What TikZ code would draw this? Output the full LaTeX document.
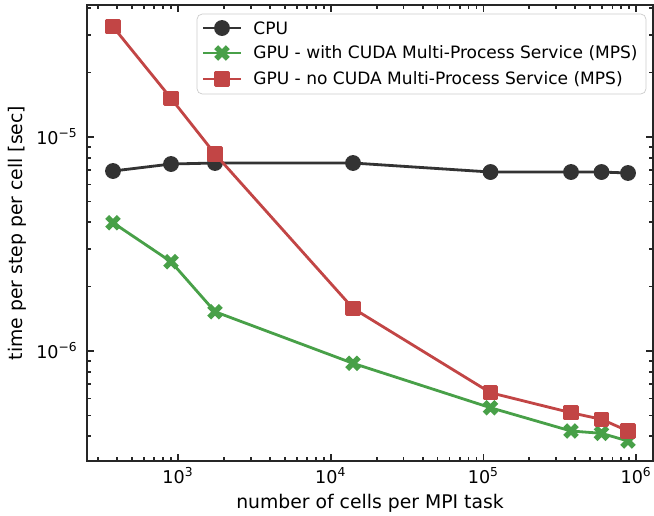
\documentclass[tikz,border=0pt]{standalone}
\usepackage{fontspec}
\setmainfont{DejaVu Sans}
\usetikzlibrary{plotmarks}
\definecolor{CpuGray}{HTML}{333333}
\definecolor{MpsGreen}{HTML}{48A048}
\definecolor{NoMpsRed}{HTML}{C24545}
\definecolor{LegendEdge}{HTML}{CCCCCC}

% filled X marker, as matplotlib draws it
\pgfdeclareplotmark{Xfilled}{%
  \pgfpathmoveto{\pgfqpoint{-1\pgfplotmarksize}{-2\pgfplotmarksize}}%
  \pgfpathlineto{\pgfqpoint{0pt}{-1\pgfplotmarksize}}%
  \pgfpathlineto{\pgfqpoint{1\pgfplotmarksize}{-2\pgfplotmarksize}}%
  \pgfpathlineto{\pgfqpoint{2\pgfplotmarksize}{-1\pgfplotmarksize}}%
  \pgfpathlineto{\pgfqpoint{1\pgfplotmarksize}{0pt}}%
  \pgfpathlineto{\pgfqpoint{2\pgfplotmarksize}{1\pgfplotmarksize}}%
  \pgfpathlineto{\pgfqpoint{1\pgfplotmarksize}{2\pgfplotmarksize}}%
  \pgfpathlineto{\pgfqpoint{0pt}{1\pgfplotmarksize}}%
  \pgfpathlineto{\pgfqpoint{-1\pgfplotmarksize}{2\pgfplotmarksize}}%
  \pgfpathlineto{\pgfqpoint{-2\pgfplotmarksize}{1\pgfplotmarksize}}%
  \pgfpathlineto{\pgfqpoint{-1\pgfplotmarksize}{0pt}}%
  \pgfpathlineto{\pgfqpoint{-2\pgfplotmarksize}{-1\pgfplotmarksize}}%
  \pgfpathclose\pgfusepathqfill}

\tikzset{
  series/.style={line width=1.6pt, line join=round},
  cpuline/.style={series, CpuGray, mark=*, mark size=0.13cm,
    mark options={draw=none, fill=CpuGray}},
  mpsline/.style={series, MpsGreen, mark=Xfilled, mark size=0.078cm,
    mark options={draw=none, fill=MpsGreen}},
  nompsline/.style={series, NoMpsRed, mark=square*, mark size=0.125cm,
    mark options={draw=none, fill=NoMpsRed}},
  axisframe/.style={line width=1pt, black!85},
  ticklabel/.style={inner sep=0pt, font=\fontsize{10}{12}\selectfont},
  axislabel/.style={font=\fontsize{10.7}{13}\selectfont},
  legendtext/.style={anchor=west, inner sep=0pt, font=\fontsize{9.7}{12}\selectfont},
}

\begin{document}
\begin{tikzpicture}[x=3.054cm, y=4.28cm]
  \useasboundingbox (1.8343,-6.7710) rectangle (6.1172,-4.3598);

  % data (log10 of cells, log10 of seconds)
  \draw[cpuline] plot coordinates {(2.5743,-5.1589) (2.9542,-5.1262)
    (3.2423,-5.1215) (4.1461,-5.1215) (5.0465,-5.1636) (5.5737,-5.1636)
    (5.7734,-5.1636) (5.9470,-5.1682)};
  \draw[mpsline] plot coordinates {(2.5743,-5.4005) (2.9542,-5.5827)
    (3.2423,-5.8164) (4.1461,-6.0575) (5.0465,-6.2650) (5.5737,-6.3738)
    (5.7734,-6.3846) (5.9470,-6.4206)};
  \draw[nompsline] plot coordinates {(2.5743,-4.4846) (2.9542,-4.8192)
    (3.2423,-5.0794) (4.1461,-5.8005) (5.0465,-6.1949) (5.5737,-6.2883)
    (5.7734,-6.3192) (5.9470,-6.3738)};

  % frame and ticks
  \draw[axisframe] (2.4041,-6.5140) rectangle (6.1107,-4.3832);
  \foreach \e in {3,4,5,6} {
    \draw[axisframe] (\e,-6.5140) -- ++(0,0.14cm);
    \draw[axisframe] (\e,-4.3832) -- ++(0,-0.14cm);
  }
  \foreach \d in {2,...,5}
    \foreach \k in {2,...,9} {
      \pgfmathsetmacro\xx{\d+log10(\k)}
      \ifdim\xx pt>2.41pt
        \draw[axisframe] (\xx,-6.5140) -- ++(0,0.08cm);
        \draw[axisframe] (\xx,-4.3832) -- ++(0,-0.08cm);
      \fi
    }
  \foreach \e in {5,6} {
    \draw[axisframe] (2.4041,-\e) -- ++(0.14cm,0);
    \draw[axisframe] (6.1107,-\e) -- ++(-0.14cm,0);
  }
  \foreach \d in {5,6,7}
    \foreach \k in {2,...,9} {
      \pgfmathsetmacro\yy{-\d+log10(\k)}
      \ifdim\yy pt>-6.51pt \ifdim\yy pt<-4.39pt
        \draw[axisframe] (2.4041,\yy) -- ++(0.08cm,0);
        \draw[axisframe] (6.1107,\yy) -- ++(-0.08cm,0);
      \fi\fi
    }

  % tick labels
  \foreach \e in {3,4,5,6}
    \node[ticklabel, anchor=base] (xt\e) at (\e,-6.6168) {10\textsuperscript{\e}};
  \foreach \e in {5,6}
    \node[ticklabel, anchor=base east] (yt\e) at (2.3451,{-\e-0.0327}) {10\textsuperscript{−\e}};

  % axis labels
  \node[axislabel, anchor=base] (xlabel) at (4.2574,-6.7336) {number of cells per MPI task};
  \node[axislabel, rotate=90] (ylabel) at (1.9456,-5.4486) {time per step per cell [sec]};

  % legend
  \draw[rounded corners=3pt, draw=LegendEdge, fill=white, fill opacity=0.8]
    (3.1244,-4.7991) rectangle (6.0648,-4.4252);
  \draw[cpuline, mark=none] (3.1637,-4.4907) -- (3.4126,-4.4907);
  \draw[cpuline] plot coordinates {(3.2881,-4.4907)};
  \node[legendtext] (legcpu) at (3.4912,-4.4907) {CPU};
  \draw[mpsline, mark=none] (3.1637,-4.6075) -- (3.4126,-4.6075);
  \draw[mpsline] plot coordinates {(3.2881,-4.6075)};
  \node[legendtext] (legmps) at (3.4912,-4.6075)
    {GPU - with CUDA Multi-Process Service (MPS)};
  \draw[nompsline, mark=none] (3.1637,-4.7290) -- (3.4126,-4.7290);
  \draw[nompsline] plot coordinates {(3.2881,-4.7290)};
  \node[legendtext] (legnomps) at (3.4912,-4.7290)
    {GPU - no CUDA Multi-Process Service (MPS)};
\end{tikzpicture}
\end{document}
